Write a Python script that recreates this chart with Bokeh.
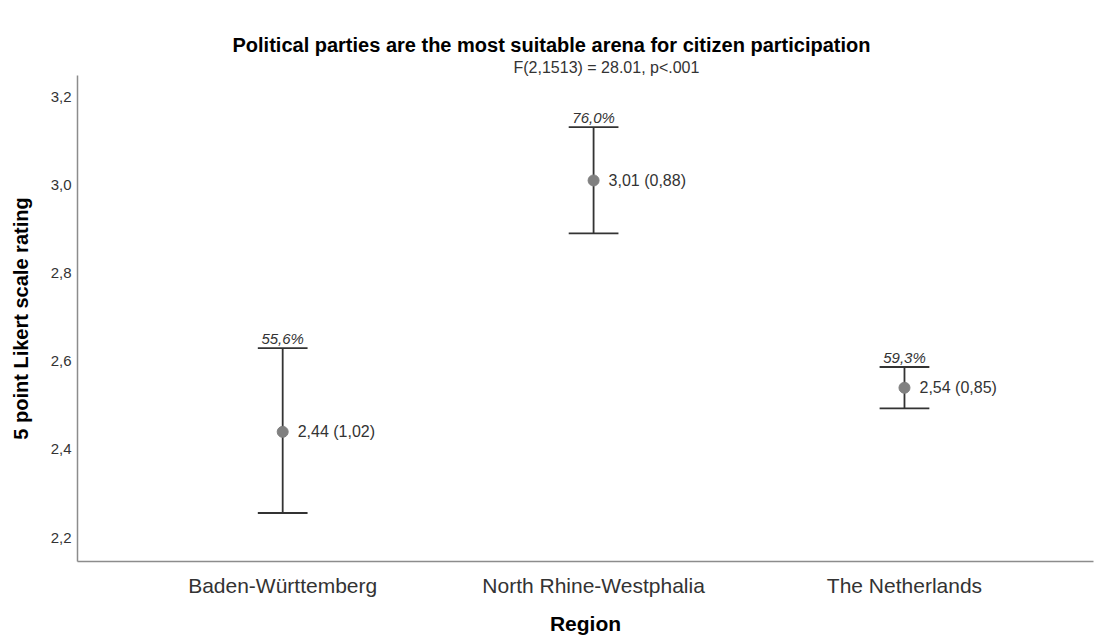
import numpy as np
from bokeh.plotting import figure
from bokeh.models import Range1d, FixedTicker, CustomJSTickFormatter, ColumnDataSource, Title
from bokeh.core.properties import value
from bokeh.embed import file_html
from bokeh.resources import INLINE

# Mean rating per region with 95% CI and share of agreement
regions = ["Baden-Württemberg", "North Rhine-Westphalia", "The Netherlands"]
means = [2.44, 3.01, 2.54]
sds = [1.02, 0.88, 0.85]
ci_low = [2.256, 2.890, 2.493]
ci_high = [2.630, 3.131, 2.587]
agree_pct = [55.6, 76.0, 59.3]
y_ticks = [2.2, 2.4, 2.6, 2.8, 3.0, 3.2]

FONT = "Liberation Sans"
DARK = "#333333"

xs = list(np.arange(len(regions)) + 1)
cap = 0.08

src = ColumnDataSource(dict(
    x=xs,
    mean=means,
    lo=ci_low,
    hi=ci_high,
    x0=[x - cap for x in xs],
    x1=[x + cap for x in xs],
    stat=[f"{m:.2f} ({s:.2f})".replace(".", ",") for m, s in zip(means, sds)],
    pct=[f"{p:.1f}%".replace(".", ",") for p in agree_pct],
))

p = figure(
    frame_width=1016, frame_height=486,
    min_border_left=77, min_border_right=12, min_border_top=75, min_border_bottom=79,
    x_range=Range1d(0.34, 3.608), y_range=Range1d(2.146, 3.248),
    output_backend="svg", toolbar_location=None,
    title="Political parties are the most suitable arena for citizen participation",
)
p.outline_line_color = None
p.xgrid.visible = False
p.ygrid.visible = False
p.background_fill_color = "white"
p.border_fill_color = "white"

# main heading on top, statistical test just above the frame
p.title.align = "left"
p.title.offset = 155
p.title.text_font = FONT
p.title.text_font_size = "20px"
p.title.text_font_style = "bold"
p.title.text_color = "#000000"
p.title.standoff = 2
p.add_layout(Title(text="F(2,1513) = 28.01, p<.001",
                   align="left", offset=436, text_font=FONT, text_font_size="16px",
                   text_font_style="normal", text_color=DARK, standoff=0), "above")

# axes
p.yaxis.ticker = FixedTicker(ticks=y_ticks)
p.yaxis.formatter = CustomJSTickFormatter(code="return tick.toFixed(1).replace('.', ',');")
p.xaxis.ticker = FixedTicker(ticks=xs)
p.xaxis.major_label_overrides = {int(x): r for x, r in zip(xs, regions)}
for ax in (p.xaxis, p.yaxis):
    ax.axis_line_color = "#8c8c8c"
    ax.axis_line_width = 1.5
    ax.major_tick_line_color = None
    ax.minor_tick_line_color = None
    ax.major_tick_out = 0
    ax.major_tick_in = 0
    ax.minor_tick_out = 0
    ax.major_label_text_font = FONT
    ax.major_label_text_color = DARK
    ax.axis_label_text_font = FONT
    ax.axis_label_text_font_style = "bold"
    ax.axis_label_text_color = "#000000"
p.yaxis.major_label_text_font_size = "15px"
p.yaxis.major_label_standoff = 6
p.yaxis.axis_label = "5 point Likert scale rating"
p.yaxis.axis_label_text_font_size = "20px"
p.yaxis.axis_label_standoff = 16
p.xaxis.major_label_text_font_size = "21px"
p.xaxis.major_label_standoff = 12
p.xaxis.axis_label = "Region"
p.xaxis.axis_label_text_font_size = "21px"
p.xaxis.axis_label_standoff = 12

# confidence interval whiskers and caps
p.segment(x0="x", y0="lo", x1="x", y1="hi", source=src, line_color=DARK, line_width=1.8)
p.segment(x0="x0", y0="hi", x1="x1", y1="hi", source=src, line_color=DARK, line_width=1.8)
p.segment(x0="x0", y0="lo", x1="x1", y1="lo", source=src, line_color=DARK, line_width=1.8)

# means
p.scatter(x="x", y="mean", source=src, size=11, fill_color="#808080", line_color="#808080")

p.text(x="x", y="mean", text="stat", source=src, x_offset=15,
       text_font=value(FONT), text_font_size="16px", text_color=DARK,
       text_baseline="middle", text_align="left")
p.text(x="x", y="hi", text="pct", source=src, y_offset=-1,
       text_font=value(FONT), text_font_size="15px", text_font_style="italic",
       text_color=DARK, text_baseline="bottom", text_align="center")

open("out.html", "w").write(file_html(p, INLINE))
